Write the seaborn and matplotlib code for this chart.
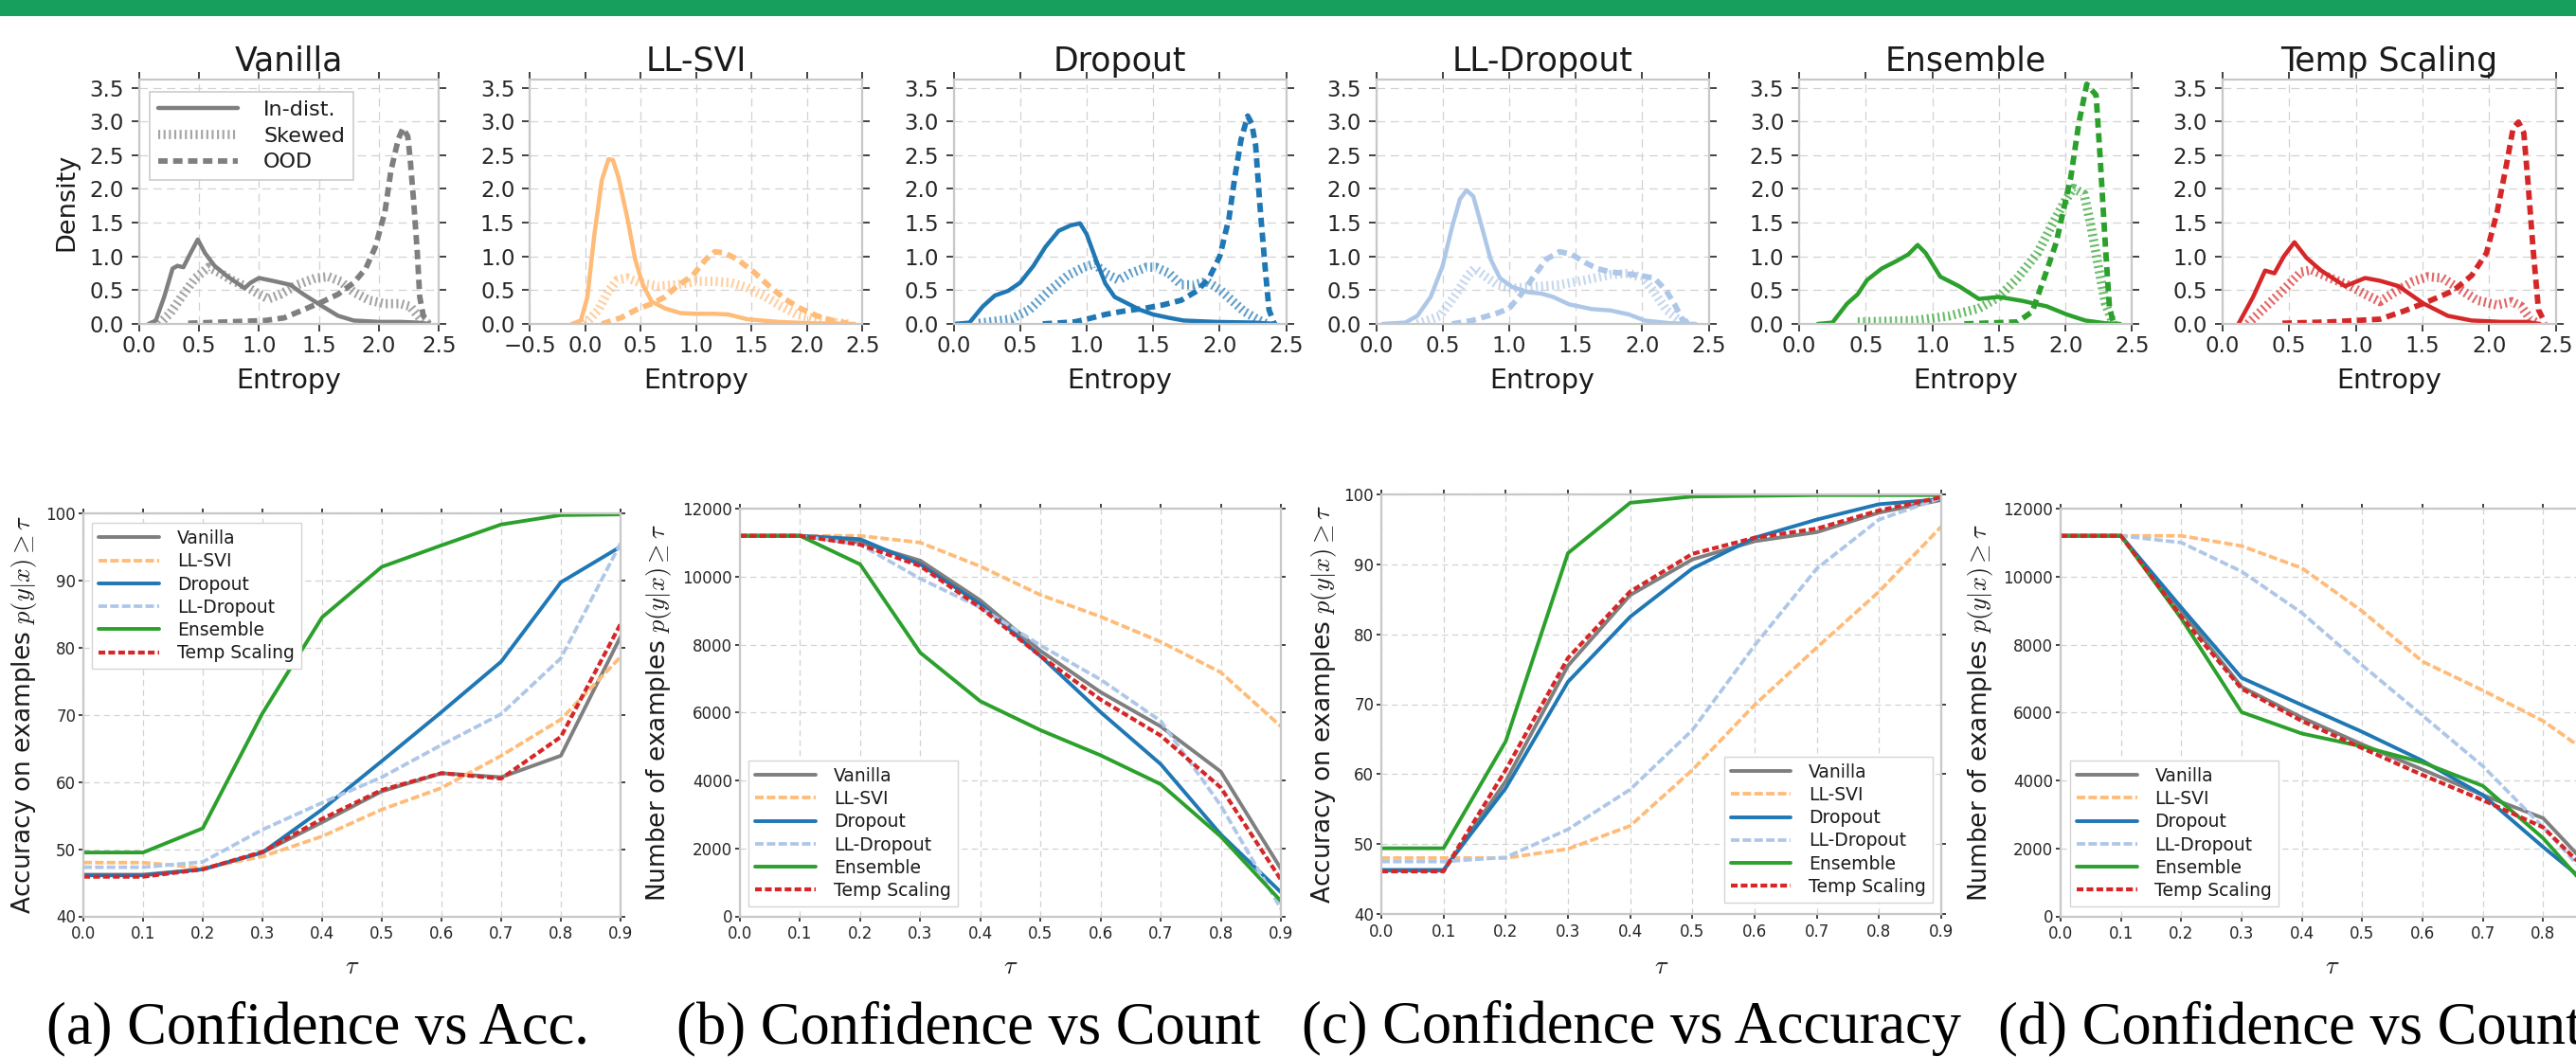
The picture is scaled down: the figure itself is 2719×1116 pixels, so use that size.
import matplotlib
matplotlib.use("Agg")
import matplotlib.pyplot as plt
import matplotlib.patches as mpatches
import seaborn as sns

W, H = 2719, 1116

# ------------------------------------------------------------------
# Top row: entropy densities
# ------------------------------------------------------------------
ENTROPY_TITLES = ["Vanilla", "LL-SVI", "Dropout", "LL-Dropout", "Ensemble", "Temp Scaling"]
CURVE_LABELS = ["In-dist.", "Skewed", "OOD"]

VANILLA_IN_X = [0.08, 0.14, 0.21, 0.28, 0.32, 0.37, 0.43, 0.49, 0.55, 0.63, 0.74, 0.88, 0.93, 1.00, 1.11, 1.26, 1.37, 1.53, 1.66, 1.79, 2.00, 2.18, 2.32, 2.42]
VANILLA_IN_Y = [0.00, 0.05, 0.40, 0.82, 0.86, 0.84, 1.05, 1.25, 1.05, 0.86, 0.70, 0.53, 0.61, 0.68, 0.64, 0.58, 0.44, 0.26, 0.12, 0.05, 0.03, 0.03, 0.02, 0.00]
VANILLA_SK_X = [0.17, 0.26, 0.37, 0.47, 0.58, 0.68, 0.79, 0.89, 1.00, 1.08, 1.18, 1.32, 1.47, 1.58, 1.68, 1.79, 1.92, 2.05, 2.18, 2.26, 2.34, 2.41]
VANILLA_SK_Y = [0.00, 0.16, 0.44, 0.68, 0.84, 0.75, 0.63, 0.56, 0.44, 0.37, 0.44, 0.58, 0.68, 0.70, 0.63, 0.47, 0.35, 0.30, 0.30, 0.26, 0.09, 0.00]
VANILLA_OOD_X = [0.41, 0.74, 1.05, 1.21, 1.37, 1.53, 1.66, 1.79, 1.89, 1.97, 2.05, 2.10, 2.16, 2.20, 2.24, 2.26, 2.29, 2.32, 2.34, 2.37, 2.42]
VANILLA_OOD_Y = [0.01, 0.03, 0.05, 0.09, 0.21, 0.33, 0.44, 0.61, 0.82, 1.14, 1.66, 2.27, 2.73, 2.90, 2.78, 2.45, 1.80, 1.05, 0.40, 0.12, 0.01]

LLSVI_IN_X = [-0.12, -0.04, 0.02, 0.08, 0.15, 0.21, 0.25, 0.30, 0.38, 0.45, 0.52, 0.60, 0.72, 0.86, 1.00, 1.17, 1.29, 1.46, 1.74, 2.03, 2.43]
LLSVI_IN_Y = [0.00, 0.05, 0.40, 1.29, 2.13, 2.44, 2.43, 2.17, 1.57, 0.96, 0.58, 0.33, 0.23, 0.16, 0.15, 0.15, 0.14, 0.07, 0.03, 0.01, 0.00]
LLSVI_SK_X = [0.00, 0.12, 0.21, 0.29, 0.38, 0.49, 0.66, 0.83, 1.00, 1.17, 1.32, 1.46, 1.63, 1.77, 1.91, 2.09, 2.26, 2.40]
LLSVI_SK_Y = [0.00, 0.21, 0.49, 0.65, 0.68, 0.61, 0.56, 0.58, 0.63, 0.63, 0.61, 0.54, 0.40, 0.26, 0.14, 0.07, 0.02, 0.00]
LLSVI_OOD_X = [0.15, 0.32, 0.46, 0.60, 0.72, 0.83, 0.97, 1.09, 1.17, 1.26, 1.37, 1.52, 1.66, 1.80, 1.94, 2.09, 2.23, 2.37]
LLSVI_OOD_Y = [0.00, 0.09, 0.21, 0.30, 0.40, 0.56, 0.72, 0.96, 1.07, 1.05, 0.96, 0.77, 0.56, 0.37, 0.23, 0.12, 0.05, 0.01]

DROPOUT_IN_X = [0.00, 0.12, 0.22, 0.31, 0.41, 0.50, 0.60, 0.69, 0.79, 0.88, 0.95, 1.00, 1.07, 1.14, 1.21, 1.31, 1.40, 1.50, 1.62, 1.73, 1.97, 2.26, 2.42]
DROPOUT_IN_Y = [0.00, 0.02, 0.26, 0.42, 0.49, 0.61, 0.86, 1.14, 1.38, 1.46, 1.49, 1.33, 0.95, 0.60, 0.40, 0.30, 0.21, 0.14, 0.09, 0.05, 0.03, 0.02, 0.00]
DROPOUT_SK_X = [0.19, 0.43, 0.57, 0.72, 0.86, 0.98, 1.06, 1.14, 1.24, 1.33, 1.45, 1.52, 1.62, 1.71, 1.81, 1.90, 2.00, 2.09, 2.18, 2.28, 2.35]
DROPOUT_SK_Y = [0.01, 0.07, 0.21, 0.49, 0.72, 0.84, 0.89, 0.75, 0.65, 0.75, 0.84, 0.84, 0.75, 0.58, 0.58, 0.63, 0.51, 0.35, 0.19, 0.07, 0.00]
DROPOUT_OOD_X = [0.67, 0.91, 1.00, 1.14, 1.28, 1.43, 1.57, 1.71, 1.83, 1.92, 2.00, 2.07, 2.11, 2.16, 2.21, 2.24, 2.27, 2.30, 2.34, 2.37, 2.41]
DROPOUT_OOD_Y = [0.00, 0.03, 0.07, 0.14, 0.19, 0.23, 0.28, 0.35, 0.49, 0.68, 1.00, 1.57, 2.13, 2.73, 3.08, 2.97, 2.64, 1.80, 0.86, 0.21, 0.00]

LLDROPOUT_IN_X = [0.05, 0.22, 0.31, 0.41, 0.50, 0.57, 0.63, 0.68, 0.73, 0.79, 0.86, 0.93, 1.02, 1.14, 1.24, 1.33, 1.45, 1.62, 1.76, 1.90, 2.02, 2.21, 2.40]
LLDROPOUT_IN_Y = [0.00, 0.02, 0.12, 0.40, 0.86, 1.43, 1.85, 1.98, 1.89, 1.47, 0.96, 0.68, 0.55, 0.47, 0.45, 0.40, 0.29, 0.22, 0.20, 0.14, 0.05, 0.01, 0.00]
LLDROPOUT_SK_X = [0.31, 0.48, 0.60, 0.69, 0.74, 0.81, 0.91, 1.02, 1.19, 1.38, 1.57, 1.76, 1.90, 2.00, 2.09, 2.18, 2.28, 2.35]
LLDROPOUT_SK_Y = [0.00, 0.12, 0.44, 0.72, 0.82, 0.72, 0.58, 0.53, 0.55, 0.58, 0.65, 0.73, 0.75, 0.68, 0.47, 0.21, 0.05, 0.00]
LLDROPOUT_OOD_X = [0.57, 0.72, 0.91, 1.00, 1.09, 1.19, 1.28, 1.38, 1.47, 1.57, 1.66, 1.76, 1.85, 1.97, 2.09, 2.18, 2.24, 2.30, 2.35]
LLDROPOUT_OOD_Y = [0.00, 0.05, 0.16, 0.23, 0.44, 0.72, 0.96, 1.07, 1.03, 0.91, 0.82, 0.77, 0.75, 0.72, 0.68, 0.49, 0.30, 0.07, 0.00]

ENSEMBLE_IN_X = [0.14, 0.25, 0.36, 0.44, 0.51, 0.62, 0.73, 0.82, 0.89, 0.95, 1.06, 1.20, 1.35, 1.50, 1.68, 1.86, 2.01, 2.15, 2.30, 2.41]
ENSEMBLE_IN_Y = [0.00, 0.02, 0.30, 0.44, 0.65, 0.82, 0.93, 1.03, 1.17, 1.05, 0.70, 0.56, 0.37, 0.40, 0.34, 0.26, 0.14, 0.05, 0.01, 0.00]
ENSEMBLE_SK_X = [0.44, 0.87, 1.13, 1.35, 1.50, 1.64, 1.79, 1.90, 1.99, 2.06, 2.14, 2.19, 2.25, 2.30, 2.36]
ENSEMBLE_SK_Y = [0.03, 0.05, 0.12, 0.23, 0.40, 0.68, 1.05, 1.47, 1.80, 2.01, 1.92, 1.47, 0.82, 0.30, 0.00]
ENSEMBLE_OOD_X = [1.24, 1.64, 1.75, 1.84, 1.93, 2.04, 2.10, 2.16, 2.23, 2.26, 2.30, 2.33, 2.36]
ENSEMBLE_OOD_Y = [0.00, 0.03, 0.18, 0.68, 1.20, 2.17, 2.97, 3.55, 3.39, 2.48, 1.15, 0.25, 0.01]

TEMP_IN_X = [0.12, 0.23, 0.32, 0.39, 0.46, 0.54, 0.63, 0.74, 0.92, 1.07, 1.18, 1.32, 1.51, 1.69, 1.87, 2.09, 2.28, 2.38]
TEMP_IN_Y = [0.00, 0.40, 0.79, 0.75, 1.00, 1.21, 0.98, 0.79, 0.56, 0.68, 0.64, 0.56, 0.30, 0.12, 0.05, 0.03, 0.03, 0.00]
TEMP_SK_X = [0.19, 0.30, 0.45, 0.59, 0.67, 0.81, 0.96, 1.07, 1.18, 1.29, 1.43, 1.54, 1.65, 1.76, 1.91, 2.06, 2.17, 2.24, 2.31, 2.37]
TEMP_SK_Y = [0.00, 0.21, 0.49, 0.77, 0.80, 0.68, 0.56, 0.44, 0.33, 0.47, 0.63, 0.70, 0.68, 0.54, 0.35, 0.28, 0.33, 0.26, 0.07, 0.00]
TEMP_OOD_X = [0.45, 0.81, 1.18, 1.36, 1.54, 1.73, 1.87, 1.98, 2.06, 2.13, 2.18, 2.22, 2.26, 2.29, 2.33, 2.37, 2.42]
TEMP_OOD_Y = [0.01, 0.03, 0.07, 0.19, 0.33, 0.49, 0.72, 1.05, 1.66, 2.36, 2.90, 2.99, 2.83, 2.13, 1.10, 0.21, 0.01]

# ------------------------------------------------------------------
# Bottom row: confidence curves
# ------------------------------------------------------------------
TAU = [0.0, 0.1, 0.2, 0.3, 0.4, 0.5, 0.6, 0.7, 0.8, 0.9]
METHODS = ["Vanilla", "LL-SVI", "Dropout", "LL-Dropout", "Ensemble", "Temp Scaling"]

A_VANILLA = [46.2, 46.2, 47.0, 49.5, 54.0, 58.6, 61.3, 60.7, 63.9, 81.6]
A_LLSVI = [48.0, 48.0, 47.2, 48.9, 51.9, 55.9, 59.1, 63.9, 69.3, 78.6]
A_DROPOUT = [46.1, 46.1, 47.0, 49.5, 55.9, 63.1, 70.4, 77.9, 89.7, 95.0]
A_LLDROPOUT = [47.3, 47.3, 48.1, 52.9, 56.9, 60.7, 65.5, 70.1, 78.4, 95.5]
A_ENSEMBLE = [49.5, 49.5, 53.1, 70.2, 84.5, 92.0, 95.2, 98.3, 99.7, 99.8]
A_TEMP = [45.9, 45.9, 47.0, 49.6, 54.5, 58.8, 61.3, 60.5, 66.7, 83.5]

B_VANILLA = [11200, 11200, 11000, 10470, 9300, 7815, 6600, 5590, 4260, 1400]
B_LLSVI = [11200, 11200, 11200, 11000, 10300, 9460, 8820, 8080, 7180, 5590]
B_DROPOUT = [11200, 11200, 11100, 10360, 9190, 7660, 6010, 4480, 2410, 710]
B_LLDROPOUT = [11200, 11200, 10940, 9940, 9090, 7975, 6970, 5750, 3260, 230]
B_ENSEMBLE = [11200, 11200, 10360, 7760, 6330, 5480, 4740, 3890, 2350, 450]
B_TEMP = [11200, 11200, 10940, 10310, 9090, 7660, 6380, 5320, 3790, 1080]

C_VANILLA = [46.2, 46.2, 59.0, 75.5, 85.6, 90.7, 93.3, 94.6, 97.4, 99.2]
C_LLSVI = [48.0, 48.0, 48.0, 49.3, 52.6, 60.6, 69.9, 78.1, 86.1, 95.4]
C_DROPOUT = [46.3, 46.3, 58.0, 73.2, 82.5, 89.4, 93.8, 96.4, 98.6, 99.3]
C_LLDROPOUT = [47.5, 47.5, 48.1, 52.1, 57.8, 66.3, 78.4, 89.4, 96.4, 99.5]
C_ENSEMBLE = [49.4, 49.4, 64.7, 91.6, 98.8, 99.7, 99.8, 99.9, 99.9, 99.9]
C_TEMP = [46.1, 46.1, 60.6, 76.6, 86.1, 91.5, 93.8, 95.1, 97.7, 99.6]

D_VANILLA = [11200, 11200, 8980, 6755, 5850, 5060, 4320, 3570, 2890, 1000]
D_LLSVI = [11200, 11200, 11200, 10900, 10250, 8980, 7500, 6650, 5750, 4500]
D_DROPOUT = [11200, 11200, 9090, 7020, 6220, 5430, 4580, 3570, 2040, 590]
D_LLDROPOUT = [11200, 11200, 11000, 10150, 8930, 7390, 5910, 4420, 2620, 690]
D_ENSEMBLE = [11200, 11200, 8770, 6010, 5380, 5000, 4530, 3840, 2300, 300]
D_TEMP = [11200, 11200, 8820, 6700, 5750, 4950, 4160, 3420, 2620, 870]

CAPTIONS = ["(a) Confidence vs Acc.", "(b) Confidence vs Count",
            "(c) Confidence vs Accuracy", "(d) Confidence vs Count"]
YLABEL_ACC = r"Accuracy on examples $p(y|x) \geq \tau$"
YLABEL_CNT = r"Number of examples $p(y|x) \geq \tau$"

ENTROPY_XTICKS = [0.0, 0.5, 1.0, 1.5, 2.0, 2.5]
LLSVI_XTICKS = [-0.5, 0.0, 0.5, 1.0, 1.5, 2.0, 2.5]
DENSITY_YTICKS = [0.0, 0.5, 1.0, 1.5, 2.0, 2.5, 3.0, 3.5]
ACC_YTICKS = [40, 50, 60, 70, 80, 90, 100]
CNT_YTICKS = [0, 2000, 4000, 6000, 8000, 10000, 12000]

# ------------------------------------------------------------------
COLORS = {"Vanilla": "#7f7f7f", "LL-SVI": "#ffbb78", "Dropout": "#1f77b4",
          "LL-Dropout": "#aec7e8", "Ensemble": "#2ca02c", "Temp Scaling": "#d62728"}
LINE_STYLES = {"Vanilla": ("-", 2.8), "LL-SVI": ((0, (2.4, 0.9)), 2.7),
               "Dropout": ("-", 2.8), "LL-Dropout": ((0, (2.4, 0.9)), 2.7),
               "Ensemble": ("-", 2.8), "Temp Scaling": ((0, (1.7, 0.8)), 3.0)}

sns.set_theme(style="whitegrid")
plt.rcParams["font.family"] = ["DejaVu Sans"]
plt.rcParams["mathtext.fontset"] = "cm"
plt.rcParams["axes.axisbelow"] = True

fig = plt.figure(figsize=(W / 100, H / 100), dpi=100)
fig.patch.set_facecolor("white")

# green band at the very top
fig.add_artist(mpatches.Rectangle((0, 1 - 17 / H), 1, 17 / H, transform=fig.transFigure,
                                  facecolor="#17a05d", edgecolor="none"))


def rect(l, r, t, b):
    return [l / W, 1 - b / H, (r - l) / W, (b - t) / H]


def style_axes(ax, tick_len, xpad, ypad, labelsize, gdash):
    ax.grid(True, linestyle=gdash, color="#d2d2d2", linewidth=0.9)
    for s in ax.spines.values():
        s.set_color("#c8c8c8")
        s.set_linewidth(1.6)
    ax.tick_params(axis="both", which="major", direction="out", length=tick_len, width=1.2,
                   color="#222222", labelcolor="#262626", labelsize=labelsize,
                   top=True, right=True, bottom=True, left=True)
    ax.tick_params(axis="x", pad=xpad)
    ax.tick_params(axis="y", pad=ypad)


# ---------------- top row ----------------
TOP_T, TOP_B = 84, 342
top_x = [(146.7, 463.3), (559.2, 910.2), (1006.5, 1357.7),
         (1452.5, 1803.7), (1899.0, 2250.4), (2345.8, 2697.7)]
top_data = [
    (VANILLA_IN_X, VANILLA_IN_Y, VANILLA_SK_X, VANILLA_SK_Y, VANILLA_OOD_X, VANILLA_OOD_Y),
    (LLSVI_IN_X, LLSVI_IN_Y, LLSVI_SK_X, LLSVI_SK_Y, LLSVI_OOD_X, LLSVI_OOD_Y),
    (DROPOUT_IN_X, DROPOUT_IN_Y, DROPOUT_SK_X, DROPOUT_SK_Y, DROPOUT_OOD_X, DROPOUT_OOD_Y),
    (LLDROPOUT_IN_X, LLDROPOUT_IN_Y, LLDROPOUT_SK_X, LLDROPOUT_SK_Y, LLDROPOUT_OOD_X, LLDROPOUT_OOD_Y),
    (ENSEMBLE_IN_X, ENSEMBLE_IN_Y, ENSEMBLE_SK_X, ENSEMBLE_SK_Y, ENSEMBLE_OOD_X, ENSEMBLE_OOD_Y),
    (TEMP_IN_X, TEMP_IN_Y, TEMP_SK_X, TEMP_SK_Y, TEMP_OOD_X, TEMP_OOD_Y),
]

for i, (title, (l, r), d) in enumerate(zip(ENTROPY_TITLES, top_x, top_data)):
    ax = fig.add_axes(rect(l, r, TOP_T, TOP_B))
    c = COLORS[title]
    sns.lineplot(x=d[0], y=d[1], ax=ax, color=c, linewidth=3.2, estimator=None,
                 sort=False, legend=False, label=CURVE_LABELS[0])
    sns.lineplot(x=d[2], y=d[3], ax=ax, color=c, linewidth=7.0, linestyle=(0, (0.22, 0.36)),
                 alpha=0.7, estimator=None, sort=False, legend=False, label=CURVE_LABELS[1])
    sns.lineplot(x=d[4], y=d[5], ax=ax, color=c, linewidth=4.2, linestyle=(0, (1.7, 1.0)),
                 estimator=None, sort=False, legend=False, label=CURVE_LABELS[2])
    style_axes(ax, 5.8, 3.0, 5.5, 16.5, (0, (7, 4.5)))
    xt = LLSVI_XTICKS if title == "LL-SVI" else ENTROPY_XTICKS
    ax.set_xticks(xt)
    ax.set_xticklabels([f"{v:.1f}".replace("-", "\u2212") for v in xt])
    ax.set_xlim(xt[0], xt[-1])
    ax.set_yticks(DENSITY_YTICKS)
    ax.set_yticklabels([f"{v:.1f}" for v in DENSITY_YTICKS])
    ax.set_ylim(0, 3.62)
    ax.set_xlabel("Entropy", fontsize=20.5, color="#1a1a1a")
    ax.xaxis.set_label_coords(0.5, -0.178)
    ax.xaxis.label.set_verticalalignment("top")
    ax.set_title(title, fontsize=25, color="#1a1a1a", y=1.035, pad=0)
    if i == 0:
        ax.set_ylabel("Density", fontsize=19.5, color="#1a1a1a")
        ax.yaxis.set_label_coords(-0.201, 0.5)
        leg = ax.legend(loc="upper left", bbox_to_anchor=(0.036, 0.95), borderaxespad=0,
                        fontsize=16, handlelength=3.8, handletextpad=1.2, labelspacing=0.35,
                        borderpad=0.4, frameon=True, fancybox=False, framealpha=1)
        leg.get_frame().set_edgecolor("#cccccc")
        leg.get_frame().set_linewidth(1.2)
        for t in leg.get_texts():
            t.set_color("#1a1a1a")
    else:
        ax.set_ylabel("")

# ---------------- bottom row ----------------
bot_rects = [(88, 655, 541.7, 967.5), (781, 1352, 537, 967.5),
             (1458, 2049, 522, 965), (2175, 2748, 537, 967.5)]
bot_series = [
    [A_VANILLA, A_LLSVI, A_DROPOUT, A_LLDROPOUT, A_ENSEMBLE, A_TEMP],
    [B_VANILLA, B_LLSVI, B_DROPOUT, B_LLDROPOUT, B_ENSEMBLE, B_TEMP],
    [C_VANILLA, C_LLSVI, C_DROPOUT, C_LLDROPOUT, C_ENSEMBLE, C_TEMP],
    [D_VANILLA, D_LLSVI, D_DROPOUT, D_LLDROPOUT, D_ENSEMBLE, D_TEMP],
]
is_acc = [True, False, True, False]
ylab_x = [-0.083, -0.123, -0.076, -0.120]
leg_pos = [("upper left", (0.016, 0.976)), ("lower left", (0.016, 0.024)),
           ("lower right", (0.985, 0.027)), ("lower left", (0.017, 0.024))]
caption_x = [49, 714, 1374, 2109]

for k, ((l, r, t, b), series) in enumerate(zip(bot_rects, bot_series)):
    ax = fig.add_axes(rect(l, r, t, b))
    for m, vals in zip(METHODS, series):
        ls, lw = LINE_STYLES[m]
        sns.lineplot(x=TAU, y=vals, ax=ax, color=COLORS[m], linewidth=lw, linestyle=ls,
                     estimator=None, sort=False, legend=False, label=m)
    style_axes(ax, 3.6, 3.5, 2.0, 12, (0, (5, 3.5)))
    ax.set_xticks(TAU)
    ax.set_xticklabels([f"{v:.1f}" for v in TAU])
    ax.set_xlim(0, 0.9)
    if is_acc[k]:
        ax.set_yticks(ACC_YTICKS)
        ax.set_ylim(40, 100)
        ax.set_ylabel(YLABEL_ACC, fontsize=19, color="#1a1a1a")
    else:
        ax.set_yticks(CNT_YTICKS)
        ax.set_ylim(0, 12000)
        ax.set_ylabel(YLABEL_CNT, fontsize=19, color="#1a1a1a")
    ax.yaxis.set_label_coords(ylab_x[k], 0.5)
    ax.set_xlabel(r"$\tau$", fontsize=19, color="#1a1a1a")
    hpx = b - t
    ax.xaxis.set_label_coords(0.5, -(1008 - b) / hpx)
    ax.xaxis.label.set_verticalalignment("top")
    loc, anchor = leg_pos[k]
    leg = ax.legend(loc=loc, bbox_to_anchor=anchor, borderaxespad=0, fontsize=13.5,
                    handlelength=3.4, handletextpad=1.0, labelspacing=0.28, borderpad=0.38,
                    frameon=True, fancybox=False, framealpha=1)
    leg.get_frame().set_edgecolor("#d5d5d5")
    leg.get_frame().set_linewidth(1.0)
    for tx in leg.get_texts():
        tx.set_color("#1a1a1a")
    fig.text(caption_x[k] / W, 1 - 1101 / H, CAPTIONS[k], fontsize=45,
             family=["Liberation Serif", "DejaVu Serif"], ha="left", va="baseline", color="black")

fig.savefig("out.png", dpi=100)
